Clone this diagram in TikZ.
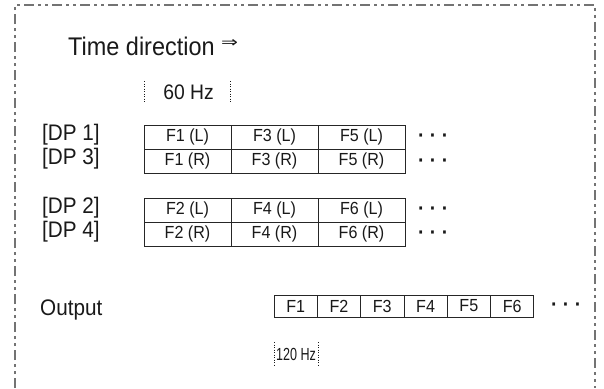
\documentclass[tikz,border=0pt]{standalone}
\usepackage{fontspec}
\setmainfont{Liberation Sans}[FakeStretch=0.92]
\newfontfamily\symfont{DejaVu Sans}
\begin{document}
\begin{tikzpicture}[x=1pt,y=-1pt,
  frame/.style={draw=black!55, line width=1.2pt, dash pattern=on 10pt off 4pt on 3pt off 4pt on 3pt off 4pt},
  cell/.style={draw=black!85, line width=0.8pt, minimum width=87pt, minimum height=24pt, inner sep=0pt, font=\fontsize{17.5}{17.5}\selectfont, text=black!90},
  ocell/.style={draw=black!85, line width=0.8pt, minimum width=43.3pt, minimum height=22pt, inner sep=0pt, font=\fontsize{17.5}{17.5}\selectfont, text=black!90},
  lbl/.style={anchor=base west, inner sep=0pt, font=\fontsize{22.5}{22.5}\selectfont, text=black!90},
  dots/.style={anchor=base west, inner sep=0pt, font=\bfseries\fontsize{21}{21}\selectfont, text=black!90},
  hz/.style={draw=black!90, line width=0.8pt, dash pattern=on 1pt off 1.5pt}
]
\useasboundingbox (0,0) rectangle (604,388);
\fill[white] (0,0) rectangle (604,388);
% frame
\coordinate (fbl) at (15,388);
\coordinate (ftl) at (15,5);
\coordinate (ftr) at (595,5);
\coordinate (fbr) at (595,388);
\draw[frame] (fbl) -- (ftl) -- (ftr) -- (fbr);

% title
\node[lbl, font=\fontsize{25.5}{25.5}\selectfont] (title) at (68,55) {Time direction};
\node[anchor=base west, inner sep=0pt, text=black!90] (arrow) at (221,47) {\symfont\fontsize{15}{15}\selectfont\scalebox{1.35}[1]{⇒}};

% 60 Hz
\coordinate (a1) at (144.5,81);
\coordinate (a2) at (144.5,103);
\coordinate (b1) at (230.5,81);
\coordinate (b2) at (230.5,103);
\draw[hz] (a1) -- (a2);
\draw[hz] (b1) -- (b2);
\node[anchor=base, inner sep=0pt, font=\fontsize{21}{21}\selectfont, text=black!90] (hz60) at (188.5,99) {60 Hz};

% labels
\node[lbl] (dp1) at (42,140) {[DP 1]};
\node[lbl] (dp3) at (42,164) {[DP 3]};
\node[lbl] (dp2) at (42,213) {[DP 2]};
\node[lbl] (dp4) at (42,237) {[DP 4]};
\node[lbl] (out) at (40,315) {Output};

% table 1
\node[cell] (c11) at (187.5,137) {F1 (L)};
\node[cell] (c12) at (274.5,137) {F3 (L)};
\node[cell] (c13) at (361.5,137) {F5 (L)};
\node[cell] (c21) at (187.5,161) {F1 (R)};
\node[cell] (c22) at (274.5,161) {F3 (R)};
\node[cell] (c23) at (361.5,161) {F5 (R)};
\node[dots] (d1) at (418,142) {· · ·};
\node[dots] (d2) at (418,167) {· · ·};

% table 2
\node[cell] (c31) at (187.5,210) {F2 (L)};
\node[cell] (c32) at (274.5,210) {F4 (L)};
\node[cell] (c33) at (361.5,210) {F6 (L)};
\node[cell] (c41) at (187.5,234) {F2 (R)};
\node[cell] (c42) at (274.5,234) {F4 (R)};
\node[cell] (c43) at (361.5,234) {F6 (R)};
\node[dots] (d3) at (418,215) {· · ·};
\node[dots] (d4) at (418,239) {· · ·};

% output
\node[ocell] (o1) at (295.65,306) {F1};
\node[ocell] (o2) at (338.95,306) {F2};
\node[ocell] (o3) at (382.25,306) {F3};
\node[ocell] (o4) at (425.55,306) {F4};
\node[ocell] (o5) at (468.85,306) {F5};
\node[ocell] (o6) at (512.15,306) {F6};
\node[dots] (d5) at (551,311) {· · ·};

% 120 Hz
\coordinate (e1) at (274,342);
\coordinate (e2) at (274,367);
\coordinate (g1) at (318,342);
\coordinate (g2) at (318,367);
\draw[hz] (e1) -- (e2);
\draw[hz] (g1) -- (g2);
\node[anchor=base, inner sep=0pt, text=black!90] (hz120) at (296,360) {\scalebox{0.78}[1]{\fontsize{17.5}{17.5}\selectfont 120 Hz}};
\end{tikzpicture}
\end{document}
